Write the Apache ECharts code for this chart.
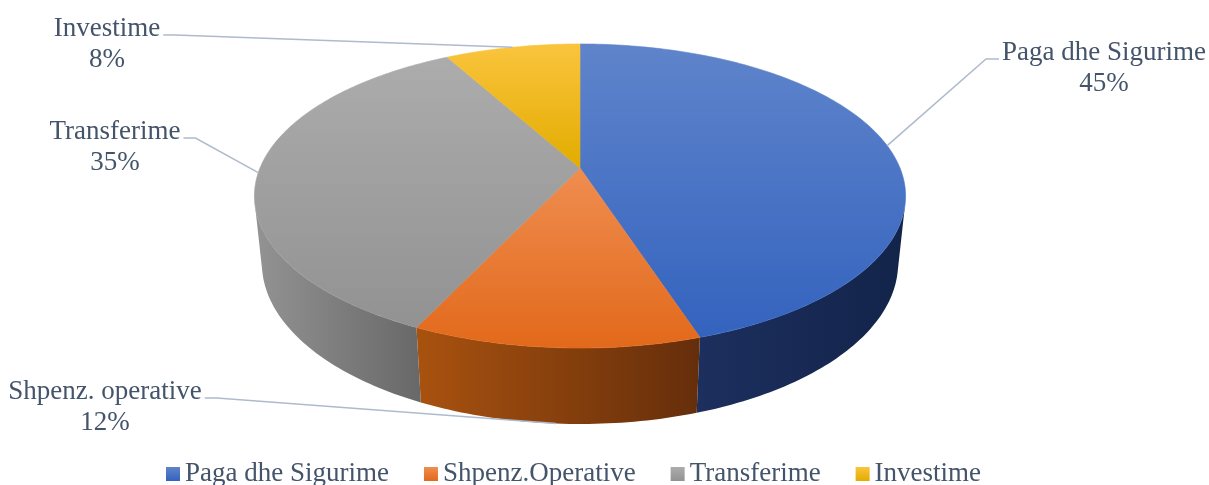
<!DOCTYPE html>
<html>
<head>
<meta charset="utf-8">
<script src="https://cdn.jsdelivr.net/npm/echarts@6/dist/echarts.min.js"></script>
<style>
  html, body { margin: 0; padding: 0; background: #fff; }
  #chart { width: 1209px; height: 485px; }
</style>
</head>
<body>
<div id="chart"></div>
<script>
// ---- data ----
const labelNames  = ['Paga dhe Sigurime', 'Shpenz. operative', 'Transferime', 'Investime'];
const legendNames = ['Paga dhe Sigurime', 'Shpenz.Operative', 'Transferime', 'Investime'];
const values      = [45, 12, 35, 8];

// ---- styles ----
const baseColors = ['#4472C4', '#ED7D31', '#A5A5A5', '#FFC000'];
const topColors  = [['#5F84CB', '#3463BE'], ['#EF8D50', '#E2691B'], ['#ACACAC', '#929292'], ['#FAC43E', '#E2AC00']];
const sideColors = [['#1C2F5E', '#13244A'], ['#A9520F', '#652E0B'], ['#939393', '#686868'], ['#B08400', '#8A6700']];
const TEXT_COLOR = '#44546A';
const LEADER_COLOR = '#AEBBCD';
const FONT = 'Liberation Serif';
const FONT_SIZE = 27;

// label block anchors (first line centre), pixel layout
const labelPos = [[1104, 53], [105, 392], [115, 132], [107, 29]];

// ---- perspective view of the pie (unit radius disc) ----
const VIEW = { cx: 580, cy: 168, K: 1542.4, d: 4.82, sinA: 0.459, cosA: 0.888, h: 0.2385 };
const WALL_MIN = Math.acos(-1 / (VIEW.d * VIEW.cosA));
const WALL_MAX = 2 * Math.PI - WALL_MIN;

function project(X, Y, z) {
  const depth = VIEW.d + Y * VIEW.cosA - z * VIEW.sinA;
  return [VIEW.cx + VIEW.K * X / depth, VIEW.cy - VIEW.K * (Y * VIEW.sinA + z * VIEW.cosA) / depth];
}
function rim(theta, z) { return project(Math.sin(theta), Math.cos(theta), z); }
function arc(a, b, z) {
  const n = Math.max(2, Math.ceil(Math.abs(b - a) / (Math.PI / 180)));
  const pts = [];
  for (let k = 0; k <= n; k++) pts.push(rim(a + (b - a) * k / n, z));
  return pts;
}

const measureCtx = document.createElement('canvas').getContext('2d');
measureCtx.font = FONT_SIZE + 'px ' + FONT;
const textWidth = s => measureCtx.measureText(s).width;

const grad = (c, horizontal) => new echarts.graphic.LinearGradient(0, 0, horizontal ? 1 : 0, horizontal ? 0 : 1,
  [{ offset: 0, color: c[0] }, { offset: 1, color: c[1] }]);

function renderSlice(i, f0, f1, pct) {
  const t0 = f0 * 2 * Math.PI, t1 = f1 * 2 * Math.PI;
  const children = [];

  // front wall
  const lo = Math.max(t0, WALL_MIN), hi = Math.min(t1, WALL_MAX);
  if (hi > lo) {
    const pts = arc(lo, hi, 0).concat(arc(hi, lo, -VIEW.h));
    children.push({ type: 'polygon', z2: 1, shape: { points: pts },
      style: { fill: grad(sideColors[i], true), stroke: 'none' } });
  }

  // top face
  const topPts = [project(0, 0, 0)].concat(arc(t0, t1, 0));
  children.push({ type: 'polygon', z2: 5, shape: { points: topPts },
    style: { fill: grad(topColors[i], false), stroke: grad(topColors[i], false), lineWidth: 0.6 } });

  // leader line + label
  const mid = (t0 + t1) / 2;
  const onWall = mid > WALL_MIN && mid < WALL_MAX;
  const p = rim(mid, onWall ? -VIEW.h : 0);
  const [lx, ly] = labelPos[i];
  const w = textWidth(labelNames[i]);
  const right = lx > VIEW.cx;
  const ex = right ? lx - w / 2 - 3 : lx + w / 2 + 3;
  const kx = right ? ex - 13 : ex + 12;
  const y = ly + 6;
  const font = FONT_SIZE + 'px "' + FONT + '"';
  children.push({ type: 'polyline', z2: 10, shape: { points: [[ex, y], [kx, y], p] },
    style: { stroke: LEADER_COLOR, lineWidth: 1.5, fill: 'none' } });
  children.push({ type: 'text', z2: 10, style: { text: labelNames[i], x: lx, y: ly, align: 'center',
    verticalAlign: 'middle', fill: TEXT_COLOR, font } });
  children.push({ type: 'text', z2: 10, style: { text: pct + '%', x: lx, y: ly + 31, align: 'center',
    verticalAlign: 'middle', fill: TEXT_COLOR, font } });

  return { type: 'group', children };
}

const total = values.reduce((a, b) => a + b, 0);
let acc = 0;
const series = values.map((v, i) => {
  const start = acc / total; acc += v; const end = acc / total;
  return {
    type: 'custom',
    name: legendNames[i],
    coordinateSystem: 'none',
    silent: true,
    animation: false,
    itemStyle: { color: baseColors[i] },
    data: [[start, end, v]],
    renderItem: (params, api) => renderSlice(i, api.value(0), api.value(1), Math.round(api.value(2) / total * 100))
  };
});

const chart = echarts.init(document.getElementById('chart'), null, { renderer: 'canvas' });
chart.setOption({
  backgroundColor: '#fff',
  animation: false,
  textStyle: { fontFamily: FONT },
  legend: {
    left: 166, top: 459,
    padding: 0,
    itemWidth: 14, itemHeight: 14, itemGap: 35,
    icon: 'rect',
    selectedMode: false,
    textStyle: { color: TEXT_COLOR, fontSize: FONT_SIZE, fontFamily: FONT, lineHeight: 30 },
    data: legendNames.map((n, i) => ({ name: n, itemStyle: { color: grad(topColors[i], false) } }))
  },
  series
});
</script>
</body>
</html>
